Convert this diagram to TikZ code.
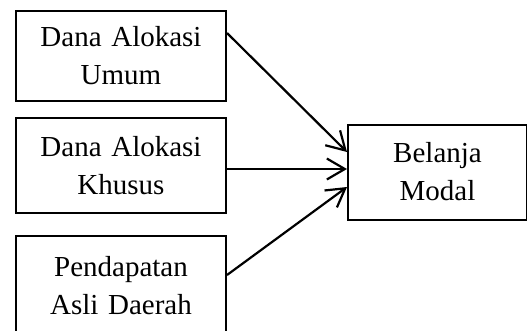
\documentclass[tikz,border=0pt]{standalone}
\usepackage{fontspec}
\setmainfont{Liberation Serif}
\usetikzlibrary{arrows.meta,calc,positioning}
\tikzset{
    %Define standard arrow tip
    >={Straight Barb[length=18bp,width=21bp]},
    %Define style for boxes
    kotak/.style={
           rectangle,
           draw=black, line width=2bp,
           minimum width=210bp,
           minimum height=90bp,
           text width=200bp,
           inner sep=0pt,
           font=\fontsize{29bp}{38bp}\selectfont,
           align=center},
    hasil/.style={
           kotak,
           minimum width=179bp,
           minimum height=95bp,
           text width=170bp},
    % Define arrow style
    panah/.style={
           ->,
           line width=2.2bp}
}

\begin{document}
\begin{tikzpicture}[x=1bp,y=-1bp]
\useasboundingbox (0,0) rectangle (527,330);
\node[kotak](dau) at (121,56){Dana Alokasi\\Umum};
\node[kotak, minimum height=95bp, below=15bp of dau](dak){Dana Alokasi\\Khusus};
\node[kotak, minimum height=100bp, below=21bp of dak](pad){Pendapatan\\Asli Daerah};
\node[hasil, right=120bp of dak, yshift=-6.5bp](bm){Belanja\\Modal};
\draw[panah] ($(dau.north east)!0.25!(dau.south east)$) -- ([yshift=20bp]bm.west);
\draw[panah] ([yshift=-3.5bp]dak.east) -- ([yshift=3bp]bm.west);
\draw[panah] ([yshift=-40bp]pad.north east) -- ([yshift=-15bp]bm.west);
\end{tikzpicture}
\end{document}
